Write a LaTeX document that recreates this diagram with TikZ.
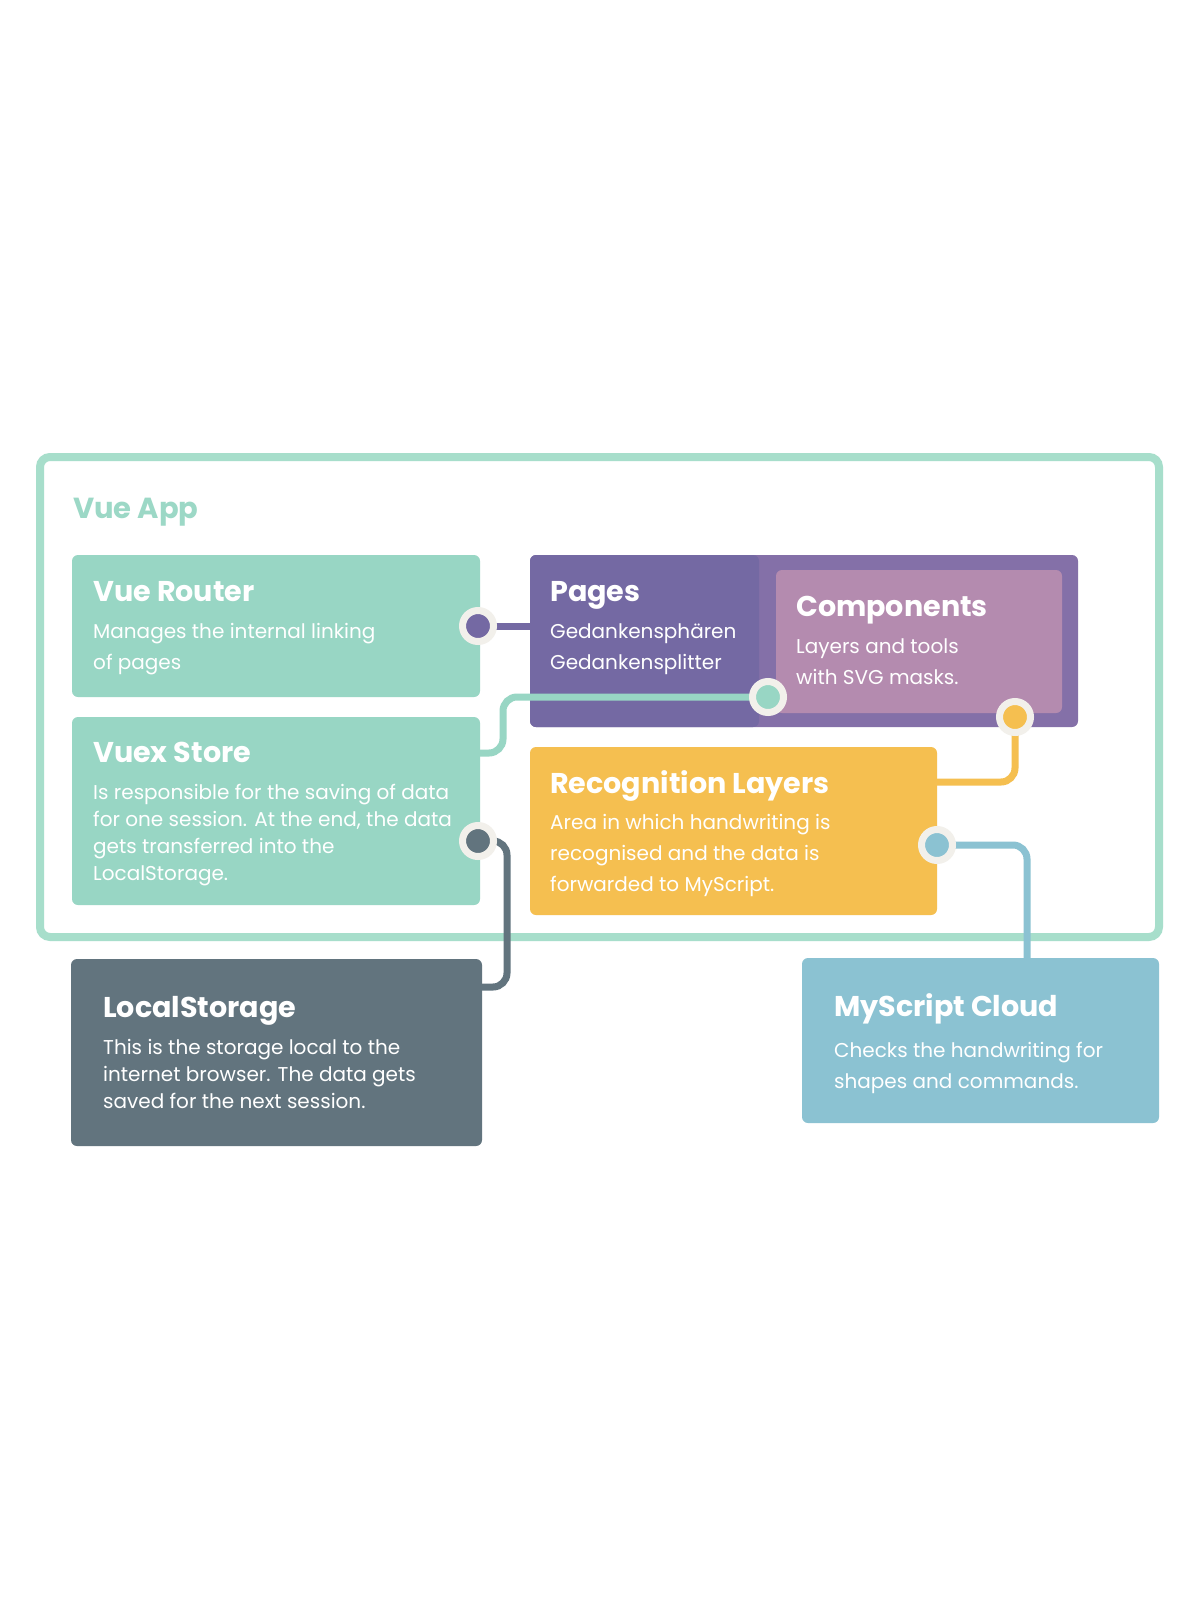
\documentclass[tikz,border=0pt]{standalone}
\usepackage{fontspec}
\setmainfont{Poppins}
\definecolor{mint}{HTML}{98D6C4}
\definecolor{framec}{HTML}{A7DECB}
\definecolor{vuetxt}{HTML}{9CD8C6}
\definecolor{pagesc}{HTML}{7469A3}
\definecolor{pagesout}{HTML}{8470A8}
\definecolor{compc}{HTML}{B48BAF}
\definecolor{yel}{HTML}{F5BF50}
\definecolor{slate}{HTML}{62747E}
\definecolor{sky}{HTML}{8BC2D2}
\definecolor{ringc}{HTML}{F2F0EB}
\newcommand\mytitlefont{\fontsize{28.6}{32}\selectfont\bfseries}
\newcommand\mybodyfont{\fontsize{20}{24}\selectfont}
\begin{document}
\begin{tikzpicture}[x=1pt,y=-1pt,
  box/.style={rectangle, rounded corners=6pt, inner sep=0pt, outer sep=0pt, anchor=north west, draw=none},
  ttl/.style={anchor=base west, inner sep=0pt, font=\mytitlefont, text=white},
  bdy/.style={anchor=base west, inner sep=0pt, font=\mybodyfont, text=white},
  conn/.style={line width=7pt, rounded corners=14pt},
  dotc/.style={circle, minimum size=31pt, inner sep=0pt, line width=7pt, draw=ringc, fill=#1}]
\useasboundingbox (0,0) rectangle (1200,1600);
\fill[white] (0,0) rectangle (1200,1600);
% frame
\node[box, draw=framec, line width=8pt, rounded corners=10pt, minimum width=1119pt, minimum height=480pt] (app) at (40,457) {};
\node[anchor=base west, inner sep=0pt, font=\fontsize{29}{33}\selectfont\bfseries, text=vuetxt] (apptitle) at (73,518) {Vue App};
% boxes
\node[box, fill=mint, minimum width=408pt, minimum height=142pt] (router) at (72,555) {};
\node[box, fill=mint, minimum width=408pt, minimum height=188pt] (vuex) at (72,717) {};
\node[box, fill=pagesout, minimum width=548pt, minimum height=172pt] (pagesbox) at (530,555) {};
\node[box, fill=pagesc, minimum width=229pt, minimum height=172pt] (pages) at (530,555) {};
\node[box, fill=compc, minimum width=286pt, minimum height=143pt] (comp) at (776,570) {};
\node[box, fill=yel, minimum width=407pt, minimum height=168pt] (recog) at (530,747) {};
\node[box, fill=slate, minimum width=411pt, minimum height=187pt] (local) at (71,959) {};
\node[box, fill=sky, minimum width=357pt, minimum height=165pt] (cloud) at (802,958) {};
% texts
\node[ttl] (t1) at (93,601) {Vue Router};
\node[bdy] (b11) at (93,638) {Manages the internal linking};
\node[bdy] (b12) at (93,669) {of pages};
\node[ttl] (t2) at (93,762) {Vuex Store};
\node[bdy] (b21) at (93,799) {Is responsible for the saving of data};
\node[bdy] (b22) at (93,826) {for one session. At the end, the data};
\node[bdy] (b23) at (93,853) {gets transferred into the};
\node[bdy] (b24) at (93,880) {LocalStorage.};
\node[ttl] (t3) at (550,601) {Pages};
\node[bdy] (b31) at (550,638) {Gedankensphären};
\node[bdy] (b32) at (550,669) {Gedankensplitter};
\node[ttl] (t4) at (796,616) {Components};
\node[bdy] (b41) at (796,653) {Layers and tools};
\node[bdy] (b42) at (796,684) {with SVG masks.};
\node[ttl] (t5) at (550,793) {Recognition Layers};
\node[bdy] (b51) at (550,829) {Area in which handwriting is};
\node[bdy] (b52) at (550,860) {recognised and the data is};
\node[bdy] (b53) at (550,891) {forwarded to MyScript.};
\node[ttl] (t6) at (103,1017) {LocalStorage};
\node[bdy] (b61) at (103,1054) {This is the storage local to the};
\node[bdy] (b62) at (103,1081) {internet browser. The data gets};
\node[bdy] (b63) at (103,1108) {saved for the next session.};
\node[ttl] (t7) at (834,1016) {MyScript Cloud};
\node[bdy] (b71) at (834,1057) {Checks the handwriting for};
\node[bdy] (b72) at (834,1088) {shapes and commands.};
% connector ends
\coordinate (rdotp) at (478,626);
\coordinate (cdotp) at (768,697);
\coordinate (ydotp) at (1015,717);
\coordinate (sdotp) at (478,841);
\coordinate (bdotp) at (937,845);
\coordinate (vxs) at (441,753);
\coordinate (yend) at (925,782);
\coordinate (lend) at (446,987);
\coordinate (cend) at (1027,970);
% connectors
\draw[conn, draw=pagesc] (rdotp) -- (rdotp -| pages.west);
\draw[conn, draw=mint] (vxs) -- (503,753) -- (503,697) -- (cdotp);
\draw[conn, draw=yel] (ydotp) -- (1015,782) -- (yend);
\draw[conn, draw=slate] (sdotp) -- (507,841) -- (507,987) -- (lend);
\draw[conn, draw=sky] (bdotp) -- (1027,845) -- (cend);
% dots
\node[dotc=pagesc] (rdot) at (rdotp) {};
\node[dotc=mint] (cdot) at (cdotp) {};
\node[dotc=yel] (ydot) at (ydotp) {};
\node[dotc=slate] (sdot) at (sdotp) {};
\node[dotc=sky] (bdot) at (bdotp) {};
\end{tikzpicture}
\end{document}
